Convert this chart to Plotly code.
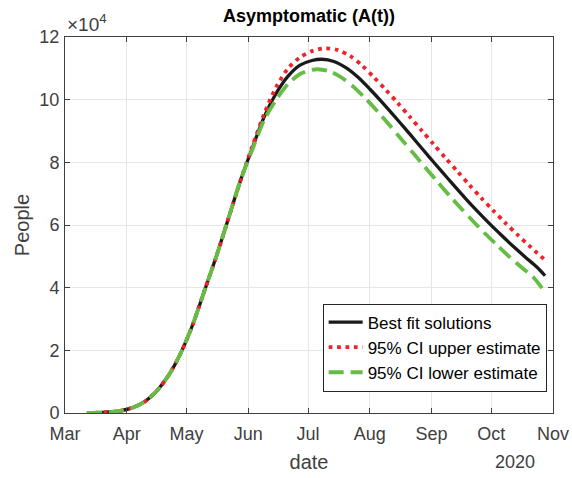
import numpy as np
import plotly.graph_objects as go

# Values in units of 10^4 people
best_dates = ["2020-03-12","2020-03-20","2020-03-28","2020-04-04","2020-04-10","2020-04-16",
              "2020-04-22","2020-04-28","2020-05-04","2020-05-10","2020-05-16","2020-05-22",
              "2020-05-28","2020-06-03","2020-06-09","2020-06-15","2020-06-21","2020-06-27",
              "2020-07-03","2020-07-08","2020-07-14","2020-07-20","2020-07-26","2020-08-01",
              "2020-08-07","2020-08-13","2020-08-19","2020-08-25","2020-08-31","2020-09-06",
              "2020-09-12","2020-09-18","2020-09-24","2020-09-30","2020-10-06","2020-10-12",
              "2020-10-18","2020-10-24","2020-10-28"]
best_vals = [0.0, 0.02, 0.06, 0.17, 0.36, 0.70, 1.2, 1.9, 2.8, 3.9, 5.0, 6.2, 7.4, 8.45, 9.45,
             10.2, 10.75, 11.1, 11.25, 11.29, 11.22, 11.02, 10.72, 10.34, 9.93, 9.5, 9.06,
             8.61, 8.16, 7.72, 7.28, 6.85, 6.44, 6.05, 5.68, 5.32, 4.98, 4.65, 4.38]

upper_dates = ["2020-03-12","2020-03-20","2020-03-28","2020-04-04","2020-04-10","2020-04-16",
               "2020-04-22","2020-04-28","2020-05-04","2020-05-10","2020-05-16","2020-05-22",
               "2020-05-28","2020-06-03","2020-06-09","2020-06-15","2020-06-21","2020-06-27",
               "2020-07-03","2020-07-10","2020-07-16","2020-07-22","2020-07-28","2020-08-03",
               "2020-08-09","2020-08-15","2020-08-21","2020-08-27","2020-09-02","2020-09-08",
               "2020-09-14","2020-09-20","2020-09-26","2020-10-02","2020-10-08","2020-10-14",
               "2020-10-20","2020-10-28"]
upper_vals = [0.0, 0.02, 0.06, 0.17, 0.36, 0.70, 1.2, 1.9, 2.8, 3.9, 5.0, 6.2, 7.4, 8.5, 9.55,
              10.4, 11.0, 11.35, 11.55, 11.64, 11.58, 11.4, 11.1, 10.72, 10.32, 9.9, 9.46,
              9.02, 8.58, 8.14, 7.71, 7.28, 6.86, 6.46, 6.07, 5.7, 5.34, 4.88]

lower_dates = ["2020-03-12","2020-03-20","2020-03-28","2020-04-04","2020-04-10","2020-04-16",
               "2020-04-22","2020-04-28","2020-05-04","2020-05-10","2020-05-16","2020-05-22",
               "2020-05-28","2020-06-03","2020-06-09","2020-06-15","2020-06-21","2020-06-27",
               "2020-07-03","2020-07-06","2020-07-12","2020-07-18","2020-07-24","2020-07-30",
               "2020-08-05","2020-08-11","2020-08-17","2020-08-23","2020-08-29","2020-09-04",
               "2020-09-10","2020-09-16","2020-09-22","2020-09-28","2020-10-04","2020-10-10",
               "2020-10-16","2020-10-22","2020-10-28"]
lower_vals = [0.0, 0.02, 0.06, 0.17, 0.36, 0.70, 1.2, 1.9, 2.8, 3.9, 5.0, 6.2, 7.4, 8.4, 9.35,
              10.0, 10.5, 10.82, 10.95, 10.97, 10.9, 10.7, 10.4, 10.03, 9.62, 9.18, 8.73, 8.28,
              7.83, 7.38, 6.94, 6.52, 6.11, 5.72, 5.35, 4.99, 4.66, 4.34, 3.86]

month_ticks = ["2020-03-01","2020-04-01","2020-05-01","2020-06-01","2020-07-01",
               "2020-08-01","2020-09-01","2020-10-01","2020-11-01"]
month_labels = ["Mar","Apr","May","Jun","Jul","Aug","Sep","Oct","Nov"]
y_ticks = [0, 2, 4, 6, 8, 10, 12]

SCALE = 1e4
FONT = "Liberation Sans, Arial, Helvetica, sans-serif"
AX = "#404040"

fig = go.Figure()
fig.add_trace(go.Scatter(x=best_dates, y=np.array(best_vals) * SCALE, mode="lines",
                         name="Best fit solutions",
                         line=dict(color="#1a1a1a", width=3.3, shape="spline", smoothing=0.8)))
fig.add_trace(go.Scatter(x=upper_dates, y=np.array(upper_vals) * SCALE, mode="lines",
                         name="95% CI upper estimate",
                         line=dict(color="#f0222a", width=3.8, dash="3.8px,4.6px",
                                   shape="spline", smoothing=0.8)))
fig.add_trace(go.Scatter(x=lower_dates, y=np.array(lower_vals) * SCALE, mode="lines",
                         name="95% CI lower estimate",
                         line=dict(color="#66bd45", width=3.8, dash="15px,7px",
                                   shape="spline", smoothing=0.8)))

fig.update_layout(
    width=572, height=478,
    margin=dict(l=65, r=19, t=37, b=65, autoexpand=False),
    paper_bgcolor="white", plot_bgcolor="white",
    font=dict(family=FONT, color=AX, size=17),
    title=dict(text="<b>Asymptomatic (A(t))</b>", x=0.5, xref="paper", xanchor="center",
               y=1 - 16 / 478, yanchor="middle", font=dict(size=18, color="#000000")),
    showlegend=True,
    legend=dict(x=0.987, y=(413 - 347.5) / 376, xanchor="right", yanchor="middle",
                bgcolor="white", bordercolor="#262626", borderwidth=1,
                font=dict(size=17, color="#000000"), tracegroupgap=0,
                itemwidth=34),
    xaxis=dict(range=["2020-03-01", "2020-11-01"], tickvals=month_ticks, ticktext=month_labels,
               showgrid=True, gridcolor="#e6e6e6", gridwidth=1,
               showline=True, linecolor=AX, linewidth=1, mirror="ticks",
               ticks="inside", ticklen=5, tickcolor=AX, tickfont=dict(size=18, color=AX),
               ticklabelstandoff=4, automargin=False,
               title=dict(text="date", font=dict(size=20, color=AX), standoff=12),
               zeroline=False),
    yaxis=dict(range=[0, 12 * SCALE], tickvals=[v * SCALE for v in y_ticks],
               ticktext=[str(v) for v in y_ticks],
               showgrid=True, gridcolor="#e6e6e6", gridwidth=1,
               showline=True, linecolor=AX, linewidth=1, mirror="ticks",
               ticks="inside", ticklen=5, tickcolor=AX, tickfont=dict(size=18, color=AX),
               ticklabelstandoff=1, automargin=False,
               title=dict(text="People", font=dict(size=20, color=AX), standoff=4),
               zeroline=False),
)

fig.add_annotation(text="×10<sup>4</sup>", xref="paper", yref="paper", x=0.0, y=1.0,
                   xanchor="left", yanchor="bottom", showarrow=False,
                   font=dict(size=19, color=AX))
fig.add_annotation(text="2020", xref="paper", yref="paper", x=(537 - 65) / 488, y=-(462 - 413) / 376,
                   xanchor="right", yanchor="middle", showarrow=False,
                   font=dict(size=18, color=AX))

fig.write_html("out.html", config={"displayModeBar": False},
               post_script="document.body.style.margin='0';document.body.style.overflow='hidden';")
